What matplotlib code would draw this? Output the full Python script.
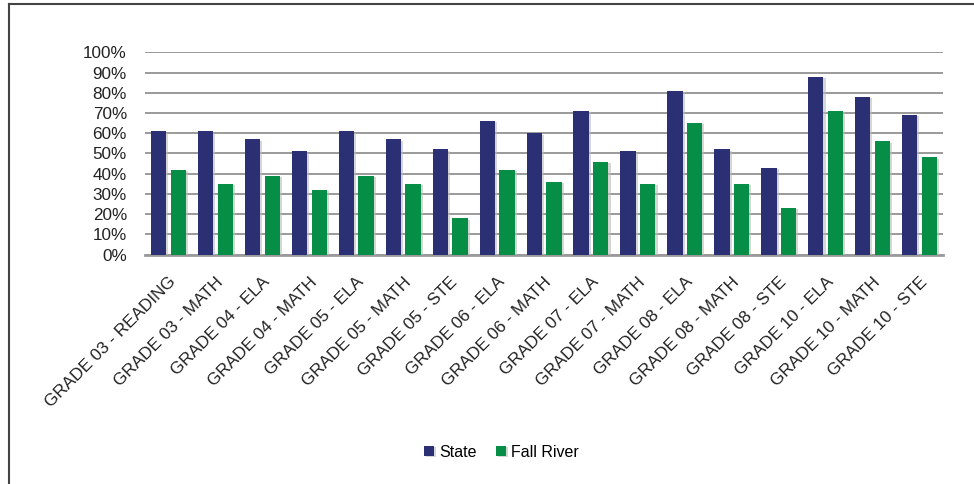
import matplotlib.pyplot as plt
import matplotlib.patheffects as pe
import matplotlib.transforms as mtransforms
from matplotlib.lines import Line2D
import numpy as np

plt.rcParams['font.family'] = ['Liberation Sans', 'DejaVu Sans']

categories = ["GRADE 03 - READING", "GRADE 03 - MATH", "GRADE 04 - ELA", "GRADE 04 - MATH",
              "GRADE 05 - ELA", "GRADE 05 - MATH", "GRADE 05 - STE", "GRADE 06 - ELA",
              "GRADE 06 - MATH", "GRADE 07 - ELA", "GRADE 07 - MATH", "GRADE 08 - ELA",
              "GRADE 08 - MATH", "GRADE 08 - STE", "GRADE 10 - ELA", "GRADE 10 - MATH",
              "GRADE 10 - STE"]
state = [61, 61, 57, 51, 61, 57, 52, 66, 60, 71, 51, 81, 52, 43, 88, 78, 69]
fall_river = [42, 35, 39, 32, 39, 35, 18, 42, 36, 46, 35, 65, 35, 23, 71, 56, 48]
yticks = [0, 10, 20, 30, 40, 50, 60, 70, 80, 90, 100]

navy = "#2b2f74"
green = "#078e46"

fig = plt.figure(figsize=(9.74, 4.84), dpi=100)
ax = fig.add_axes([0.1489, 0.474, 0.8193, 0.418])

x = np.arange(len(categories))
w = 0.326
shadow = [pe.SimplePatchShadow(offset=(1.5, -1), shadow_rgbFace="#bbbbbb", alpha=0.6), pe.Normal()]
b1 = ax.bar(x - 0.21, state, w, color=navy, label="State", zorder=3)
b2 = ax.bar(x + 0.21, fall_river, w, color=green, label="Fall River", zorder=3)
for b in list(b1) + list(b2):
    b.set_path_effects(shadow)

ax.set_xlim(-0.5, len(categories) - 0.5)
ax.set_ylim(0, 100)
ax.set_yticks(yticks)
ax.set_yticklabels([f"{v}%" for v in yticks], fontsize=12.3, color="#222222")
ax.yaxis.grid(True, color="#9a9a9a", linewidth=1.4, zorder=0)
ax.set_axisbelow(True)
ax.tick_params(axis="both", length=0)
ax.tick_params(axis="y", pad=13)

ax.set_xticks(x)
ax.set_xticklabels(categories, rotation=45, ha="right", va="center",
                   rotation_mode="anchor", fontsize=12.3, color="#222222")
ax.tick_params(axis="x", pad=18)
shift = mtransforms.ScaledTranslation(5 / 100, 0, fig.dpi_scale_trans)
for lbl in ax.get_xticklabels():
    lbl.set_transform(lbl.get_transform() + shift)

for s in ["top", "right", "left"]:
    ax.spines[s].set_visible(False)
ax.spines["bottom"].set_color("#9a9a9a")
ax.spines["bottom"].set_linewidth(2)

leg = fig.legend(loc="center", bbox_to_anchor=(0.515, 0.066), ncol=2, frameon=False,
                 fontsize=11.5, handlelength=0.6, handleheight=0.6, handletextpad=0.35,
                 columnspacing=1.2)

# frame edges
fig.add_artist(Line2D([8.5 / 974, 1], [1 - 4 / 484, 1 - 4 / 484], color="#444444", linewidth=1.5))
fig.add_artist(Line2D([8.5 / 974, 8.5 / 974], [0, 1 - 4 / 484], color="#444444", linewidth=1.5))

fig.savefig("out.png", dpi=100)
